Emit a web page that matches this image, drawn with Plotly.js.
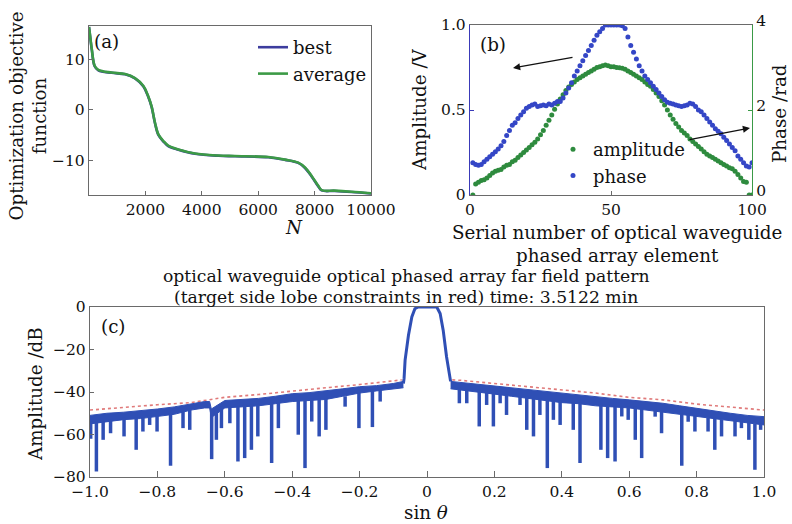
<!DOCTYPE html>
<html><head><meta charset="utf-8">
<script src="https://cdn.plot.ly/plotly-3.0.1.min.js"></script>
<style>html,body{margin:0;padding:0;background:#fff}#chart{width:792px;height:524px}</style>
</head><body><div id="chart"></div>
<script>
// ---------- (a) optimization objective ----------
const iterN   = [0, 50, 100, 200, 330, 800, 1280, 1630, 1930, 2100, 2220, 2340, 2460, 2640, 2810, 3170, 3760, 4590, 5180, 6360, 6950, 7420, 7660, 7900, 8130, 8250, 8720, 9310, 10000];
const bestObj = [16.3, 14.0, 11.8, 8.6, 7.8, 7.3, 7.0, 6.2, 4.6, 2.6, 0.6, -2.6, -4.9, -6.2, -7.1, -7.8, -8.6, -9.0, -9.1, -9.3, -9.8, -10.4, -11.4, -13.1, -15.0, -15.8, -15.9, -16.1, -16.4];
const avgObj  = [16.3, 14.1, 11.9, 8.7, 7.9, 7.35, 7.05, 6.25, 4.7, 2.7, 0.7, -2.5, -4.8, -6.1, -7.0, -7.75, -8.55, -8.95, -9.05, -9.25, -9.75, -10.35, -11.3, -13.0, -14.9, -15.75, -15.85, -16.05, -16.35];
const aXTicks = [2000, 4000, 6000, 8000, 10000];
const aXText  = ['2000', '4000', '6000', '8000', '10000'];
const aYTicks = [-10, 0, 10];
const aYText  = ['\u221210', '0', '10'];

// ---------- (b) element amplitude / phase ----------
const elementIndex = [1,2,3,4,5,6,7,8,9,10,11,12,13,14,15,16,17,18,19,20,21,22,23,24,25,26,27,28,29,30,31,32,33,34,35,36,37,38,39,40,41,42,43,44,45,46,47,48,49,50,51,52,53,54,55,56,57,58,59,60,61,62,63,64,65,66,67,68,69,70,71,72,73,74,75,76,77,78,79,80,81,82,83,84,85,86,87,88,89,90,91,92,93,94,95,96,97,98,99,100];
const amplitudeV = [0.00,0.065,0.075,0.085,0.09,0.10,0.115,0.13,0.14,0.145, 0.15,0.165,0.175,0.18,0.195,0.205,0.22,0.235,0.25,0.265, 0.28,0.295,0.31,0.33,0.355,0.38,0.41,0.44,0.47,0.505, 0.535,0.565,0.59,0.615,0.635,0.65,0.665,0.68,0.69,0.70, 0.71,0.72,0.73,0.74,0.75,0.755,0.76,0.765,0.76,0.755, 0.755,0.75,0.748,0.745,0.74,0.73,0.72,0.71,0.70,0.69, 0.68,0.665,0.65,0.64,0.62,0.60,0.58,0.555,0.53,0.50, 0.47,0.445,0.42,0.40,0.38,0.365,0.35,0.33,0.315,0.30, 0.285,0.27,0.255,0.24,0.23,0.22,0.21,0.20,0.19,0.18, 0.17,0.16,0.155,0.14,0.12,0.10,0.08,0.075,0.00,0.00];
const phaseRad = [0.76,0.72,0.70,0.72,0.78,0.84,0.90,0.96,1.02,1.08, 1.16,1.26,1.40,1.52,1.64,1.70,1.80,1.88,1.96,2.04, 2.08,2.12,2.14,2.08,2.10,2.12,2.10,2.14,2.12,2.16, 2.20,2.20,2.28,2.40,2.52,2.64,2.80,2.92,3.04,3.16, 3.28,3.40,3.52,3.64,3.76,3.84,3.92,4.00,4.00,4.00, 4.00,4.00,4.00,3.98,3.92,3.72,3.52,3.36,3.20,3.04, 2.92,2.80,2.72,2.64,2.56,2.48,2.40,2.32,2.24,2.18, 2.16,2.14,2.12,2.10,2.08,2.10,2.12,2.16,2.14,2.08, 2.00,1.96,1.88,1.80,1.72,1.64,1.56,1.50,1.44,1.36, 1.28,1.20,1.12,1.04,0.92,0.84,0.76,0.68,0.66,0.76];
const bXTicks = [0, 50, 100];
const bYLeftTicks = [0, 0.5, 1];
const bYLeftText  = ['0', '0.5', '1.0'];
const bYRightTicks = [0, 2, 4];

// ---------- (c) far-field pattern ----------
const bandLeftX   = [-1.0, -0.95, -0.9, -0.85, -0.8, -0.75, -0.7, -0.66, -0.645, -0.64, -0.6, -0.55, -0.5, -0.45, -0.4, -0.35, -0.3, -0.25, -0.2, -0.15, -0.1, -0.07];
const bandLeftTop = [-51, -50, -49.5, -48.8, -48, -47, -45.5, -44.5, -44.5, -48, -44, -43.5, -43, -42, -40.8, -40.3, -39.5, -38.5, -37.5, -37, -36, -35];
const bandLeftBot = [-55, -54, -53, -52.5, -51.5, -50.5, -48.5, -47.5, -47.5, -52, -47.5, -47, -46.5, -45.5, -44.5, -44, -43.5, -42, -40.5, -39.5, -38.5, -38];
const bandRightX   = [0.07, 0.1, 0.15, 0.2, 0.25, 0.3, 0.35, 0.4, 0.45, 0.5, 0.55, 0.6, 0.65, 0.7, 0.75, 0.8, 0.85, 0.9, 0.95, 1.0];
const bandRightTop = [-35, -35.5, -36.5, -37.5, -38.2, -39, -40, -40.7, -41.5, -42.5, -43, -43.7, -44.5, -45.3, -46.5, -47.7, -49, -50, -51, -51.6];
const bandRightBot = [-38.5, -39, -40, -41, -42, -43, -44, -45, -45.5, -46.5, -47, -47.5, -48.5, -49.5, -50.5, -51.5, -52.5, -53.5, -54.5, -55.5];
const lobeX = [-0.07, -0.068, -0.065, -0.055, -0.045, -0.036, -0.026, 0, 0.029, 0.039, 0.048, 0.058, 0.066, 0.07];
const lobeY = [-36, -33.6, -25, -13.3, -4.7, -0.8, 0, 0, 0, -3.1, -10.9, -23.4, -32.8, -35];
const dipX = [-0.998, -0.981, -0.961, -0.939, -0.899, -0.863, -0.843, -0.823, -0.801, -0.761, -0.724, -0.704, -0.639, -0.625, -0.610, -0.585, -0.561, -0.541, -0.521, -0.502, -0.461, -0.441, -0.382, -0.362, -0.342, -0.320, -0.300, -0.243, -0.202, -0.162, -0.139, 0.096, 0.118, 0.155, 0.177, 0.197, 0.217, 0.236, 0.276, 0.296, 0.316, 0.335, 0.357, 0.375, 0.395, 0.434, 0.454, 0.516, 0.536, 0.558, 0.578, 0.597, 0.618, 0.637, 0.677, 0.696, 0.756, 0.775, 0.795, 0.834, 0.854, 0.874, 0.914, 0.933, 0.955, 0.973, 0.990];
const dipTop = [-54, -54, -54, -53, -52, -52, -52, -51, -51, -50, -49, -48, -48, -48, -47, -47, -47, -46, -46, -46, -45, -45, -44, -44, -43, -43, -43, -42, -40, -39, -39, -38, -39, -39, -40, -40, -41, -41, -42, -42, -43, -43, -44, -44, -44, -45, -45, -46, -46, -47, -47, -47, -47, -48, -48, -49, -50, -50, -51, -52, -52, -53, -53, -54, -54, -55, -55];
const dipBottom = [-62, -77.4, -62.5, -59.4, -60.9, -67.2, -58.6, -55.5, -58.6, -74.7, -57, -57.8, -71.6, -62.5, -57, -54.7, -72.7, -71.1, -67.2, -60.9, -73.4, -57, -60.1, -75.8, -53.9, -60.9, -57.8, -46.9, -57, -56.5, -44.5, -45.3, -45.3, -56.2, -46.1, -56.2, -45.3, -50.8, -46.1, -57.8, -60.9, -50.8, -75.8, -53.1, -55.5, -57.8, -73.4, -67.2, -71.1, -72.7, -51.5, -53.1, -62.5, -71.1, -51.6, -59.4, -74.7, -54, -58.6, -58.6, -67.2, -60.9, -60.9, -57, -62.5, -76.6, -57.8];
const redLeftX  = [-1, -0.9, -0.8, -0.7, -0.6, -0.5, -0.4, -0.3, -0.2, -0.1, -0.075];
const redLeftY  = [-48.5, -47.2, -46, -45, -42.5, -41.2, -39.5, -38, -36.5, -35, -34.3];
const redRightX = [0.075, 0.1, 0.2, 0.3, 0.4, 0.5, 0.6, 0.7, 0.8, 0.9, 1.0];
const redRightY = [-34.3, -34.5, -36, -37.5, -39.3, -40.5, -42.5, -43.7, -45.7, -47, -48.5];
const cXTicks = [-1, -0.8, -0.6, -0.4, -0.2, 0, 0.2, 0.4, 0.6, 0.8, 1];
const cXText  = ['\u22121.0', '\u22120.8', '\u22120.6', '\u22120.4', '\u22120.2', '0', '0.2', '0.4', '0.6', '0.8', '1.0'];
const cYTicks = [-80, -60, -40, -20, 0];
const cYText  = ['\u221280', '\u221260', '\u221240', '\u221220', '0'];

// ---------- layout helpers ----------
const W = 792, H = 524;
const px = v => v / W;
const py = v => 1 - v / H;
const FONT = 'DejaVu Serif, serif';
const GRAY = '#6a6a6a';
const BLUE_C = '#2f4fb5';
const TICKF = {family: FONT, size: 15.5, color: '#111'};
const LABF = {family: FONT, size: 18.3, color: '#111'};

function baseAxis(extra) {
  return Object.assign({
    showgrid: false, zeroline: false, showline: true, linecolor: GRAY, linewidth: 1.2,
    ticks: 'inside', ticklen: 4, tickcolor: GRAY, tickwidth: 1, tickfont: TICKF, fixedrange: true
  }, extra);
}

// dip segments
const dipSegX = [], dipSegY = [];
dipX.forEach((x, i) => { dipSegX.push(x, x, null); dipSegY.push(dipTop[i], dipBottom[i], null); });

const traces = [
  {x: iterN, y: bestObj, xaxis: 'x', yaxis: 'y', mode: 'lines', name: 'best', legend: 'legend',
   line: {color: '#3d3d9e', width: 2.6, shape: 'spline'}},
  {x: iterN, y: avgObj, xaxis: 'x', yaxis: 'y', mode: 'lines', name: 'average', legend: 'legend',
   line: {color: '#3c9a46', width: 2.6, shape: 'spline'}},

  {x: elementIndex, y: amplitudeV, xaxis: 'x2', yaxis: 'y2', mode: 'markers', name: 'amplitude', legend: 'legend2',
   marker: {color: '#2e8b3e', size: 5}},
  {x: elementIndex, y: phaseRad, xaxis: 'x2', yaxis: 'y3', mode: 'markers', name: 'phase', legend: 'legend2',
   marker: {color: '#3446c6', size: 5}},

  {x: redLeftX, y: redLeftY, xaxis: 'x3', yaxis: 'y4', mode: 'lines', showlegend: false,
   line: {color: '#e07a7a', width: 1.6, dash: 'dot'}},
  {x: redRightX, y: redRightY, xaxis: 'x3', yaxis: 'y4', mode: 'lines', showlegend: false,
   line: {color: '#e07a7a', width: 1.6, dash: 'dot'}},
  {x: bandLeftX, y: bandLeftTop, xaxis: 'x3', yaxis: 'y4', mode: 'lines', showlegend: false,
   line: {color: BLUE_C, width: 1}},
  {x: bandLeftX, y: bandLeftBot, xaxis: 'x3', yaxis: 'y4', mode: 'lines', showlegend: false,
   fill: 'tonexty', fillcolor: BLUE_C, line: {color: BLUE_C, width: 1}},
  {x: bandRightX, y: bandRightTop, xaxis: 'x3', yaxis: 'y4', mode: 'lines', showlegend: false,
   line: {color: BLUE_C, width: 1}},
  {x: bandRightX, y: bandRightBot, xaxis: 'x3', yaxis: 'y4', mode: 'lines', showlegend: false,
   fill: 'tonexty', fillcolor: BLUE_C, line: {color: BLUE_C, width: 1}},
  {x: dipSegX, y: dipSegY, xaxis: 'x3', yaxis: 'y4', mode: 'lines', showlegend: false,
   line: {color: BLUE_C, width: 3.5}},
  {x: lobeX, y: lobeY, xaxis: 'x3', yaxis: 'y4', mode: 'lines', showlegend: false, cliponaxis: false,
   line: {color: BLUE_C, width: 3}}
];

const ann = (x, y, text, opt) => Object.assign({xref: 'paper', yref: 'paper', x: px(x), y: py(y), text: text,
  showarrow: false, xanchor: 'center', yanchor: 'middle', font: LABF}, opt || {});
const TITF = {family: FONT, size: 17.2, color: '#111'};

const layout = {
  width: W, height: H, margin: {l: 0, r: 0, t: 0, b: 0},
  paper_bgcolor: '#fff', plot_bgcolor: '#fff',
  font: {family: FONT, size: 17, color: '#111'},
  showlegend: true,
  xaxis: baseAxis({domain: [px(89), px(371)], anchor: 'y', range: [0, 10000], mirror: true,
    tickvals: aXTicks, ticktext: aXText}),
  yaxis: baseAxis({domain: [py(195), py(26)], anchor: 'x', range: [-16.7, 16.5], mirror: true,
    tickvals: aYTicks, ticktext: aYText}),
  xaxis2: baseAxis({domain: [px(470), px(752)], anchor: 'y2', range: [0, 100], mirror: true,
    tickvals: bXTicks}),
  yaxis2: baseAxis({domain: [py(195), py(25)], anchor: 'x2', range: [0, 1], mirror: false,
    linecolor: '#3a3ab8', tickcolor: '#3a3ab8', tickvals: bYLeftTicks, ticktext: bYLeftText}),
  yaxis3: baseAxis({overlaying: 'y2', side: 'right', anchor: 'x2', range: [0, 4],
    linecolor: '#3a9a46', tickcolor: '#3a9a46', tickvals: bYRightTicks, ticklabelshift: -4}),
  xaxis3: baseAxis({domain: [px(90), px(764)], anchor: 'y4', range: [-1, 1], mirror: true, ticklen: 6,
    tickvals: cXTicks, ticktext: cXText}),
  yaxis4: baseAxis({domain: [py(477), py(307)], anchor: 'x3', range: [-80, 0], mirror: true,
    tickvals: cYTicks, ticktext: cYText}),
  legend: {x: px(253), y: py(29), xanchor: 'left', yanchor: 'top', bgcolor: 'rgba(0,0,0,0)', traceorder: 'normal',
    font: {family: FONT, size: 18, color: '#111'}, itemwidth: 30, tracegroupgap: 0},
  legend2: {x: px(553), y: py(131), xanchor: 'left', yanchor: 'top', bgcolor: 'rgba(0,0,0,0)', traceorder: 'normal',
    font: {family: FONT, size: 18, color: '#111'}, itemwidth: 30, tracegroupgap: 0},
  annotations: [
    ann(106, 42, '(a)'),
    ann(493, 44, '(b)'),
    ann(113, 326, '(c)'),
    ann(27.5, 116, 'Optimization objective<br>function', {textangle: -90}),
    ann(294, 227, '<i>N</i>'),
    ann(420, 110, 'Amplitude /V', {textangle: -90}),
    ann(780, 114, 'Phase /rad', {textangle: -90}),
    ann(617, 232, 'Serial number of optical waveguide', {borderpad: 0}),
    ann(617, 255, 'phased array element', {borderpad: 0}),
    ann(406, 276, 'optical waveguide optical phased array far field pattern', {font: TITF, borderpad: 0}),
    ann(406, 297, '(target side lobe constraints in red) time: 3.5122 min', {font: TITF, borderpad: 0}),
    ann(35, 394, 'Amplitude /dB', {textangle: -90}),
    ann(426, 512, 'sin <i>\u03b8</i>'),
    {xref: 'paper', yref: 'paper', x: px(513), y: py(68), ax: 61, ay: -11, text: '', showarrow: true,
      arrowhead: 2, arrowsize: 1.1, arrowwidth: 1.3, arrowcolor: '#111'},
    {xref: 'paper', yref: 'paper', x: px(750), y: py(128), ax: -62, ay: 12, text: '', showarrow: true,
      arrowhead: 2, arrowsize: 1.1, arrowwidth: 1.3, arrowcolor: '#111'}
  ]
};

Plotly.newPlot('chart', traces, layout, {staticPlot: true, displayModeBar: false});
</script>
</body></html>
